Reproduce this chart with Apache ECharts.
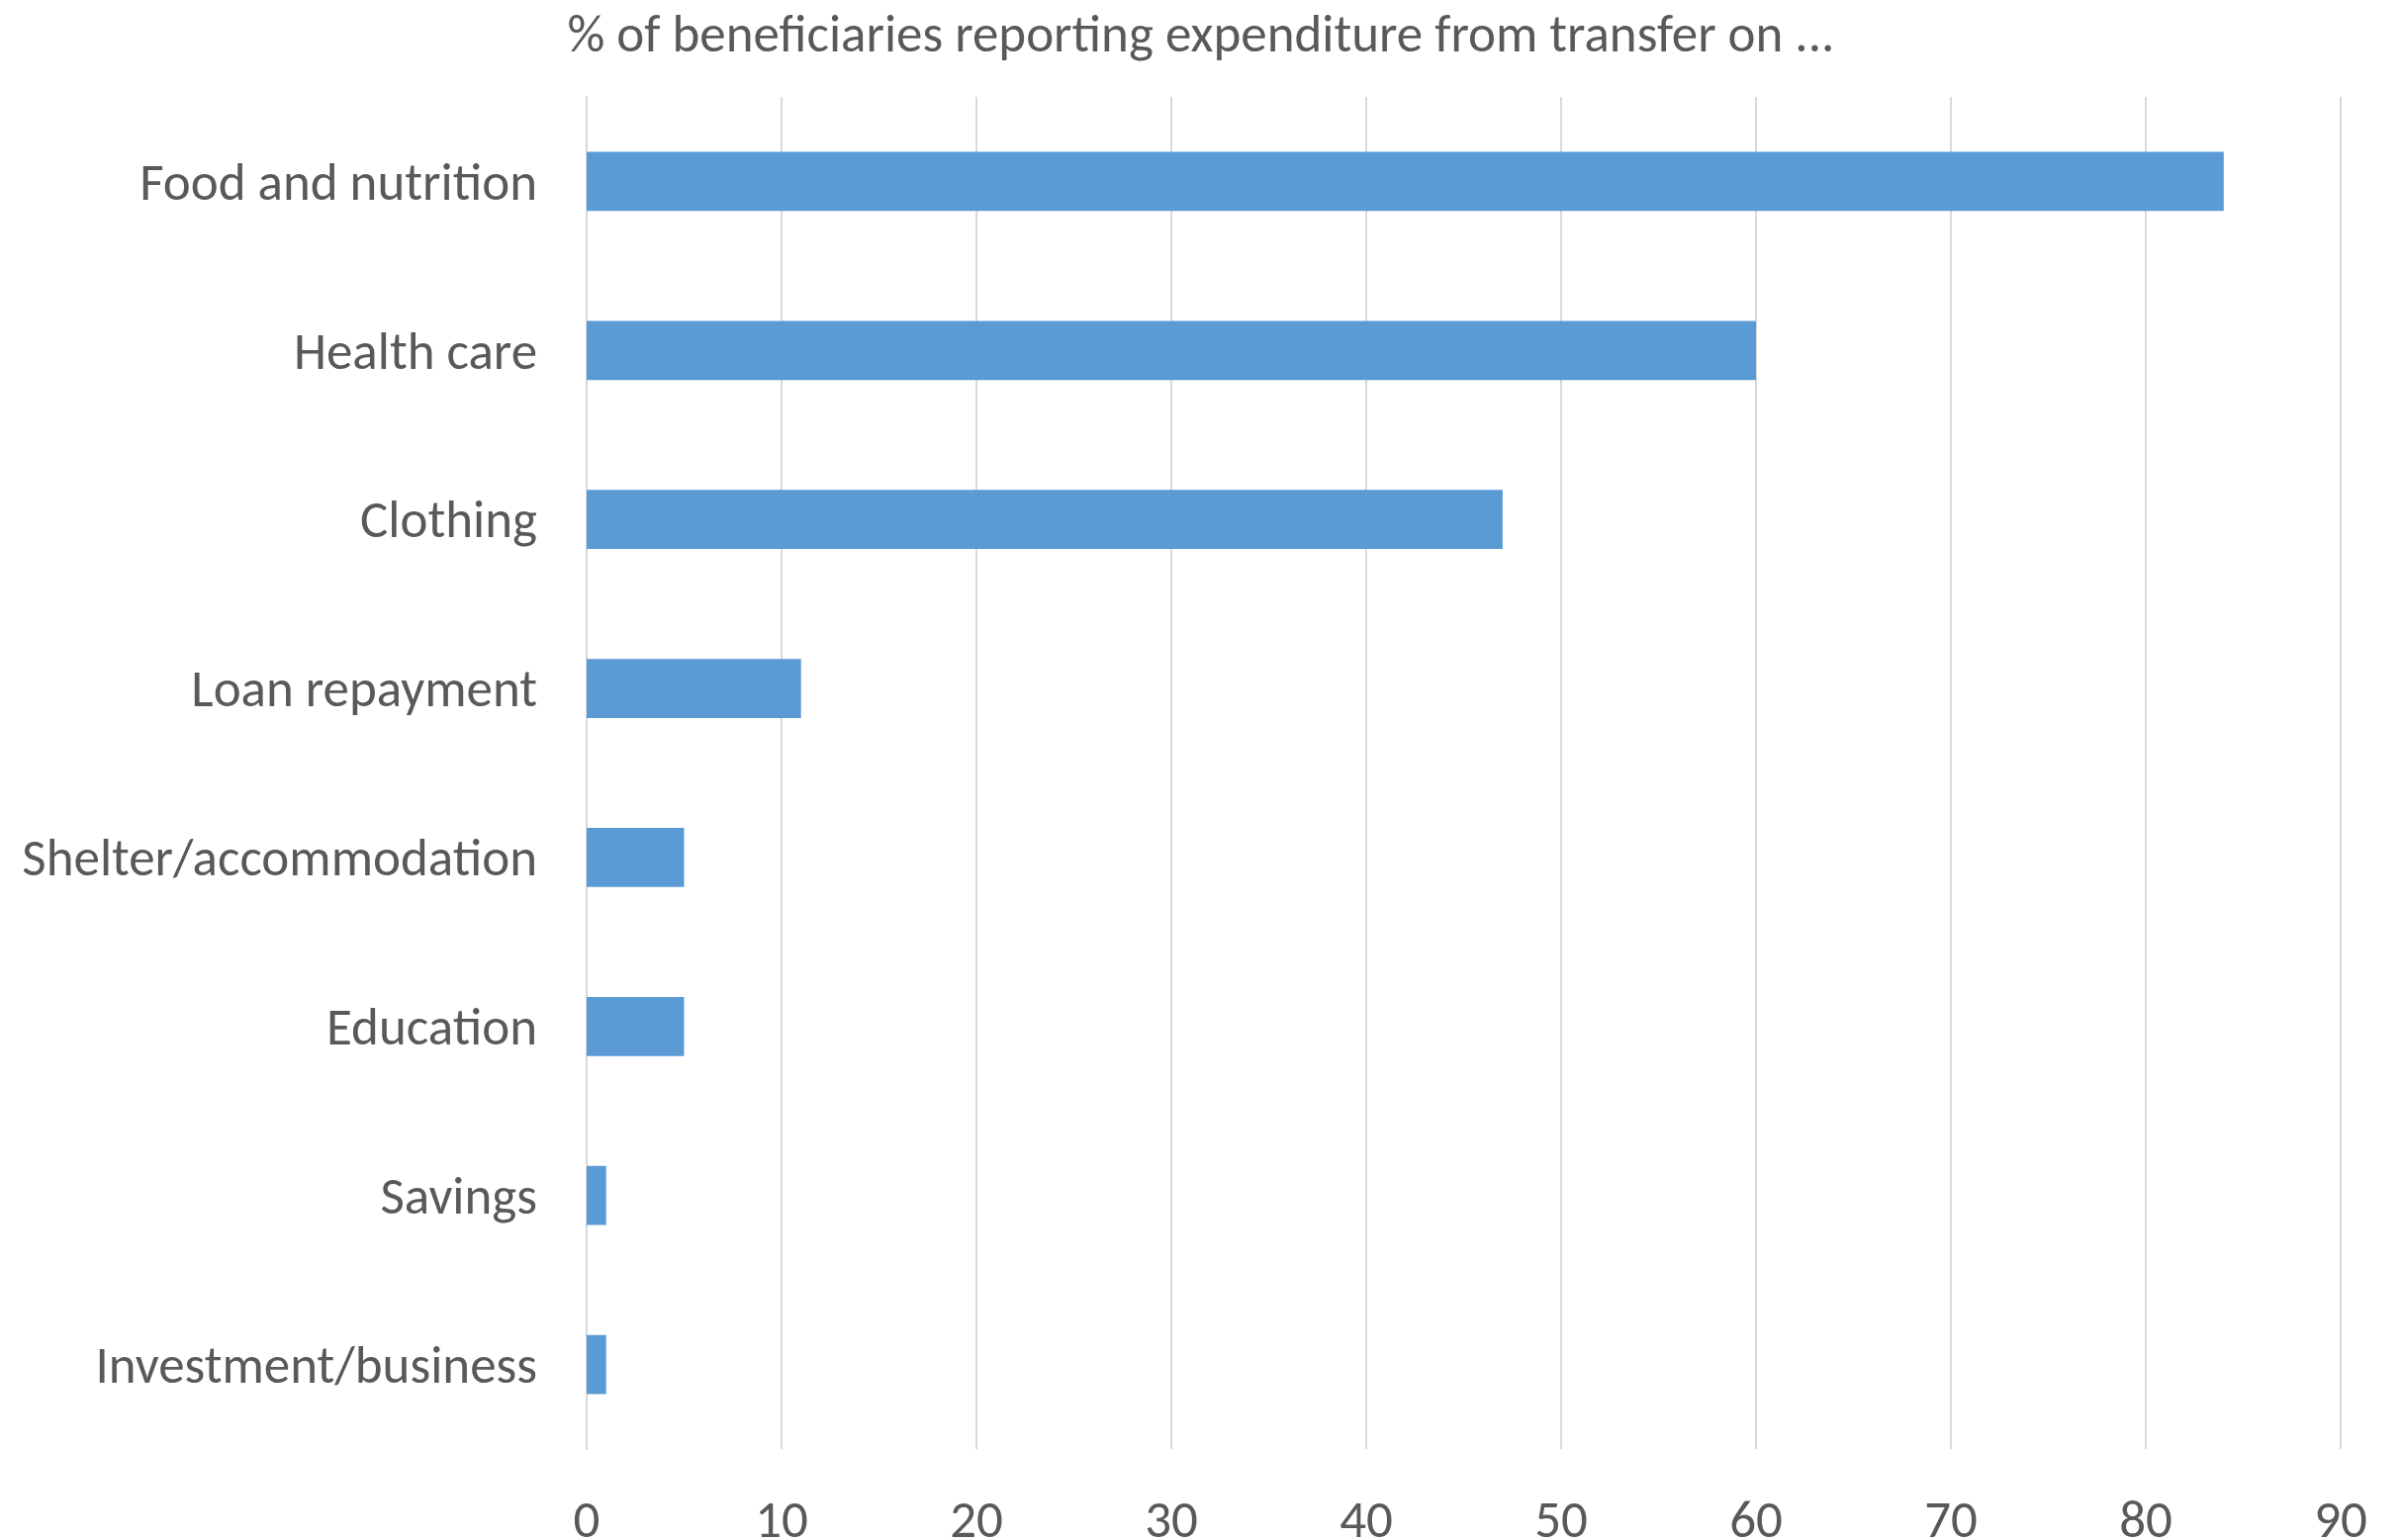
<!DOCTYPE html>
<html>
<head>
<meta charset="utf-8">
<style>
  html, body { margin: 0; padding: 0; background: #ffffff; }
  #chart { width: 2428px; height: 1557px; }
</style>
<script src="https://cdn.jsdelivr.net/npm/echarts@6/dist/echarts.min.js"></script>
</head>
<body>
<div id="chart"></div>
<script>
// Spending categories, listed top to bottom
const categories = [
  'Food and nutrition',
  'Health care',
  'Clothing',
  'Loan repayment',
  'Shelter/accommodation',
  'Education',
  'Savings',
  'Investment/business'
];

// Share of beneficiaries (%) reporting spending on each category
const shares = [84, 60, 47, 11, 5, 5, 1, 1];

// Value axis ticks
const axisMin = 0;
const axisMax = 90;
const axisStep = 10;

const chartTitle = '% of beneficiaries reporting expenditure from transfer on ...';

const FONT = "Carlito, 'Liberation Sans Narrow', Lato, sans-serif";
const TEXT = '#595959';
const SIZE = 53;

const chart = echarts.init(document.getElementById('chart'));
chart.setOption({
  animation: false,
  backgroundColor: '#ffffff',
  title: {
    text: chartTitle,
    left: 'center',
    top: 7,
    textStyle: { fontFamily: FONT, fontSize: SIZE, fontWeight: 'normal', color: TEXT }
  },
  grid: {
    left: 593, right: 62, top: 98, bottom: 92,
    containLabel: false,
    outerBoundsMode: 'none'
  },
  xAxis: {
    type: 'value',
    min: axisMin,
    max: axisMax,
    interval: axisStep,
    axisLine: { show: false },
    axisTick: { show: false },
    axisLabel: {
      margin: 49,
      fontFamily: FONT,
      fontSize: SIZE,
      color: TEXT
    },
    splitLine: { show: true, lineStyle: { color: '#d9d9d9', width: 2 } }
  },
  yAxis: {
    type: 'category',
    data: categories,
    inverse: true,
    axisLine: { show: true, lineStyle: { color: '#d9d9d9', width: 2 } },
    axisTick: { show: false },
    axisLabel: {
      margin: 50,
      fontFamily: FONT,
      fontSize: SIZE,
      color: TEXT,
      // nudge the text so its letters sit centred on the bar
      verticalAlign: 'top',
      lineHeight: 10
    }
  },
  series: [{
    type: 'bar',
    data: shares,
    barCategoryGap: '65%',
    itemStyle: { color: '#5b9bd5' }
  }]
});
</script>
</body>
</html>
